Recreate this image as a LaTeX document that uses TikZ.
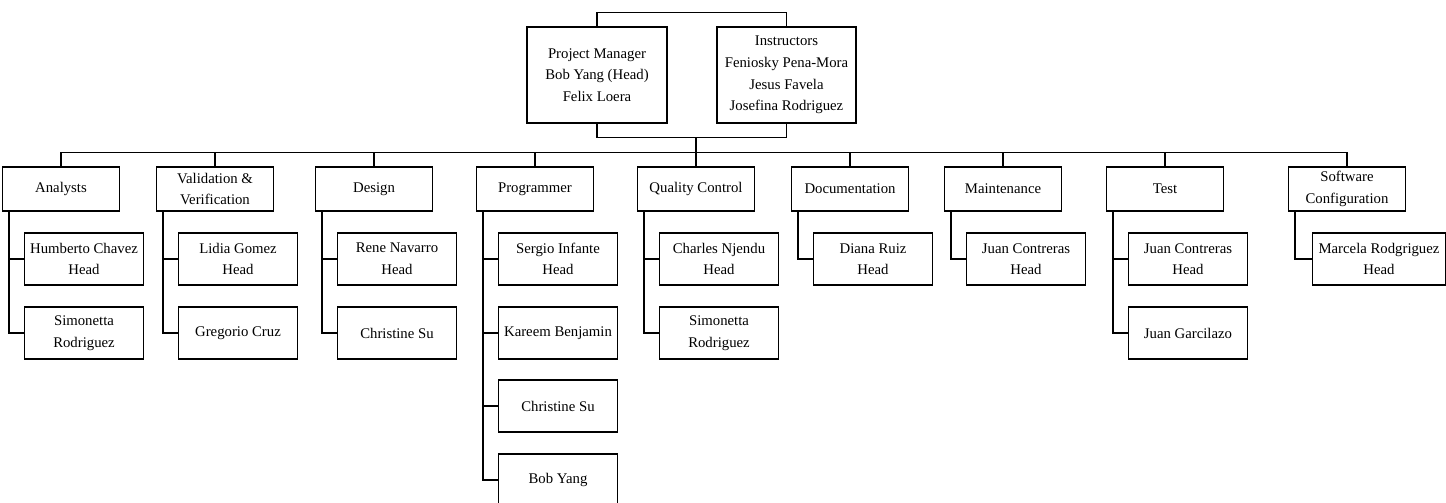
\documentclass[tikz,border=0pt]{standalone}
\usepackage{fontspec}
\setmainfont{Liberation Serif}
\tikzset{
  wire/.style={line width=0.6pt},
  lead/.style={draw,line width=0.6pt,minimum width=2.8cm,minimum height=1.92cm,align=center,inner sep=1pt},
  unit/.style={draw,line width=0.6pt,minimum width=2.34cm,minimum height=0.88cm,align=center,inner sep=1pt},
  member/.style={draw,line width=0.6pt,minimum width=2.38cm,minimum height=1.04cm,align=center,inner sep=1pt}
}

\begin{document}
\begin{tikzpicture}[font=\fontsize{8.4}{12.3}\selectfont]
  \useasboundingbox (0,0) rectangle (28.92,-10.04);
  % top of the chart
  \node[lead] (pm) at (11.94,-1.50) {Project Manager\\Bob Yang (Head)\\Felix Loera};
  \node[lead,minimum width=2.78cm] (ins) at (15.73,-1.50) {Instructors\\Feniosky Pena-Mora\\Jesus Favela\\Josefina Rodriguez};
  \draw[wire] (pm.north) -- ++(0,0.28) -| (ins.north);
  \draw[wire] (pm.south) -- ++(0,-0.28) coordinate (pmb) -| (ins.south);
  % groups
  \foreach \i/\x/\txt in {1/1.22/Analysts, 2/4.30/{Validation \&\\Verification}, 3/7.48/Design,
      4/10.70/Programmer, 5/13.92/Quality Control, 6/17.00/Documentation,
      7/20.06/Maintenance, 8/23.30/Test, 9/26.94/{Software\\Configuration}}
  {
    \node[unit] (c\i) at (\x,-3.78) {\txt};
    \draw[wire] (c\i.north) -- ++(0,0.28);
  }
  \draw[wire] ([yshift=0.28cm]c1.north) -- ([yshift=0.28cm]c9.north);
  \draw[wire] (c5.north) -- (c5.north |- pmb);
  % members
  \node[member] (m1a) at (1.68,-5.18) {Humberto Chavez\\Head};
  \node[member] (m1b) at (1.68,-6.66) {Simonetta\\Rodriguez};
  \node[member] (m2a) at (4.76,-5.18) {Lidia Gomez\\Head};
  \node[member] (m2b) at (4.76,-6.66) {Gregorio Cruz};
  \node[member] (m3a) at (7.94,-5.18) {Rene Navarro\\Head};
  \node[member] (m3b) at (7.94,-6.66) {Christine Su};
  \node[member] (m4a) at (11.16,-5.18) {Sergio Infante\\Head};
  \node[member] (m4b) at (11.16,-6.66) {Kareem Benjamin};
  \node[member] (m4c) at (11.16,-8.12) {Christine Su};
  \node[member] (m4d) at (11.16,-9.60) {Bob Yang};
  \node[member] (m5a) at (14.38,-5.18) {Charles Njendu\\Head};
  \node[member] (m5b) at (14.38,-6.66) {Simonetta\\Rodriguez};
  \node[member] (m6a) at (17.46,-5.18) {Diana Ruiz\\Head};
  \node[member] (m7a) at (20.52,-5.18) {Juan Contreras\\Head};
  \node[member] (m8a) at (23.76,-5.18) {Juan Contreras\\Head};
  \node[member] (m8b) at (23.76,-6.66) {Juan Garcilazo};
  \node[member,minimum width=2.66cm] (m9a) at (27.58,-5.18) {Marcela Rodgriguez\\Head};
  \foreach \c/\m in {1/m1a,1/m1b,2/m2a,2/m2b,3/m3a,3/m3b,4/m4a,4/m4b,4/m4c,4/m4d,
      5/m5a,5/m5b,6/m6a,7/m7a,8/m8a,8/m8b,9/m9a}
    \draw[wire] ([xshift=0.14cm]c\c.south west) |- (\m.west);
\end{tikzpicture}
\end{document}
